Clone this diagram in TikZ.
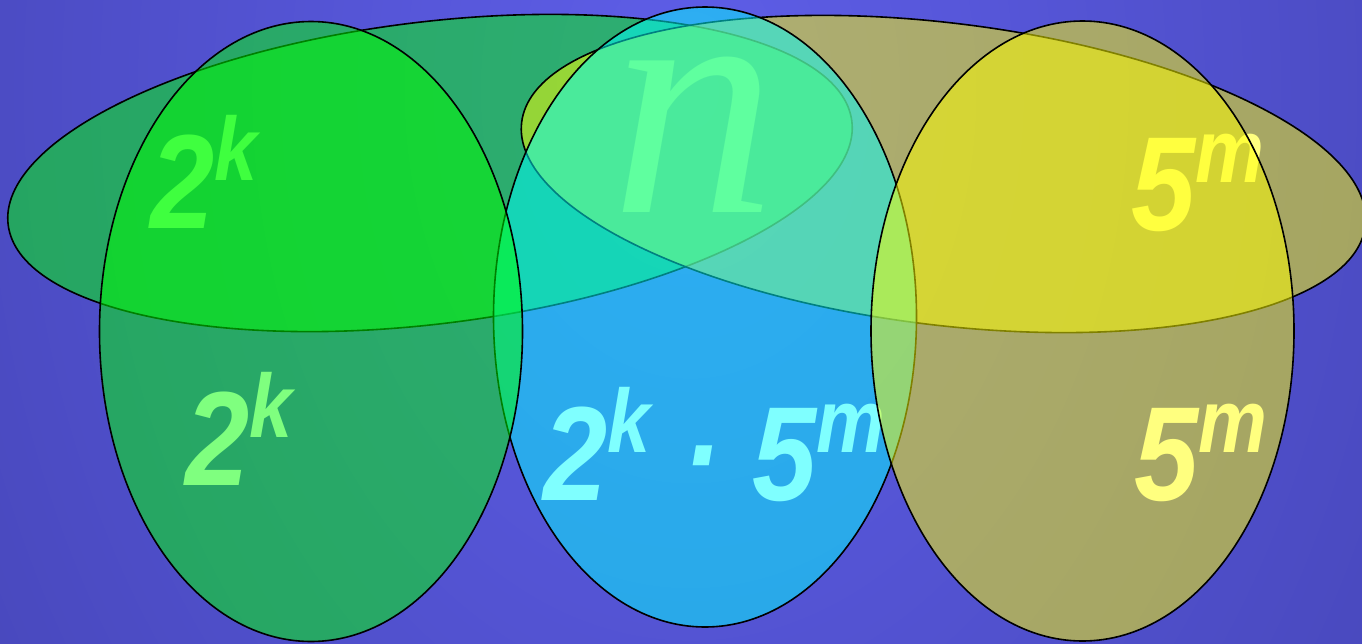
\documentclass[tikz,border=0pt]{standalone}
\usepackage{fontspec}
\setmainfont{Liberation Sans}
\newfontfamily\labfont[FakeStretch=0.86]{Liberation Sans}
\newfontfamily\varfont{Liberation Serif}
\usetikzlibrary{shapes.geometric}
\definecolor{bgin}{RGB}{94,94,232}
\definecolor{bgout}{RGB}{52,52,148}
\definecolor{setgreen}{RGB}{0,255,0}
\definecolor{setcyan}{RGB}{0,255,255}
\definecolor{setyellow}{RGB}{255,255,0}
\newcommand{\pw}[2]{#1\raisebox{48pt}{\fontsize{90}{90}\selectfont #2}}

\begin{document}
\begin{tikzpicture}[x=1pt,y=-1pt]
\tikzset{
  lab/.style={text=white,inner sep=0,anchor=base west,font=\labfont\bfseries\itshape\fontsize{134}{134}\selectfont},
  set/.style={ellipse,draw=black,line width=1.6pt,fill opacity=0.5,inner sep=0,outer sep=0},
  wide/.style={set,minimum width=850pt,minimum height=302pt},
  tall/.style={set,minimum width=423pt,minimum height=620pt}
}
\useasboundingbox (0,0) rectangle (1362,643);
\begin{scope}
\clip (0,0) rectangle (1362,643);
\shade[inner color=bgin,outer color=bgout] (690,90) ellipse [x radius=1600pt,y radius=2200pt];
\end{scope}
% labels sit under the sets
\node(nn)[text=white,inner sep=0,anchor=base,font=\varfont\itshape\fontsize{330}{330}\selectfont] at (694,212) {n};
\node(up2k)[lab] at (150,228) {\pw{2}{k}};
\node(lo2k)[lab] at (185,485) {\pw{2}{k}};
\node(mid)[lab] at (543,500) {\pw{2}{k} · \pw{5}{m}};
\node(up5m)[lab] at (1131,230) {\pw{5}{m}};
\node(lo5m)[lab] at (1134,500) {\pw{5}{m}};
% the five sets
\node(hg)[wide,rotate=7,fill=setgreen] at (430,173) {};
\node(ho)[wide,rotate=-7,fill=setyellow] at (943.5,174) {};
\node(vc)[tall,fill=setcyan] at (705,317) {};
\node(vg)[tall,fill=setgreen] at (311,331.5) {};
\node(vo)[tall,fill=setyellow] at (1082.5,331) {};
\end{tikzpicture}
\end{document}
